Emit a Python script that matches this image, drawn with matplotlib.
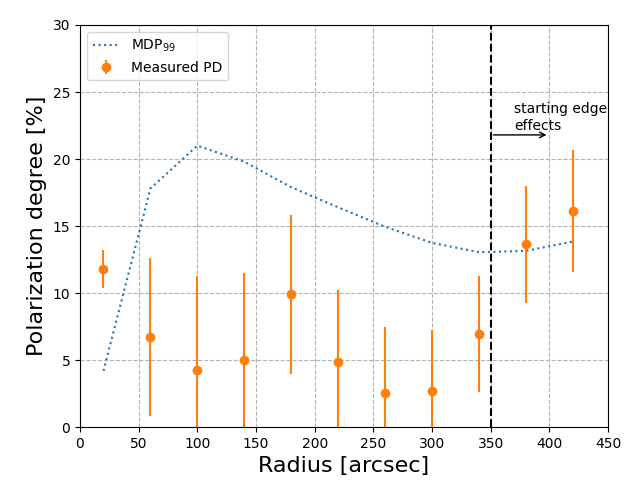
import numpy as np
import matplotlib.pyplot as plt

radius = np.array([20, 60, 100, 140, 180, 220, 260, 300, 340, 380, 420])
mdp99 = np.array([4.2, 17.8, 21.0, 19.8, 17.9, 16.4, 14.95, 13.75, 13.05, 13.15, 13.85])
pd_meas = np.array([11.8, 6.7, 4.3, 5.0, 9.9, 4.85, 2.55, 2.7, 6.95, 13.65, 16.1])
pd_err = np.array([1.4, 5.9, 7.0, 6.5, 5.9, 5.4, 4.9, 4.55, 4.33, 4.37, 4.55])

fig, ax = plt.subplots(figsize=(6.4, 4.8), dpi=100)
fig.subplots_adjust(left=0.125, right=0.95, top=0.948, bottom=0.11)

ax.plot(radius, mdp99, ':', color='tab:blue', label='MDP$_{99}$')
ax.errorbar(radius, pd_meas, yerr=pd_err, fmt='o', color='tab:orange', label='Measured PD')

ax.axvline(350, color='k', linestyle='--', linewidth=1.5)
ax.annotate('', xy=(400, 21.8), xytext=(350, 21.8),
            arrowprops=dict(arrowstyle='->', color='k'))
ax.text(370, 22.2, 'starting edge\neffects', fontsize=10)

ax.set_xlim(0, 450)
ax.set_ylim(0, 30)
ax.set_xlabel('Radius [arcsec]', fontsize=16)
ax.set_ylabel('Polarization degree [%]', fontsize=16)
ax.grid(True, linestyle='--', color='0.7')
ax.legend(loc='upper left')

plt.savefig('out.png')
